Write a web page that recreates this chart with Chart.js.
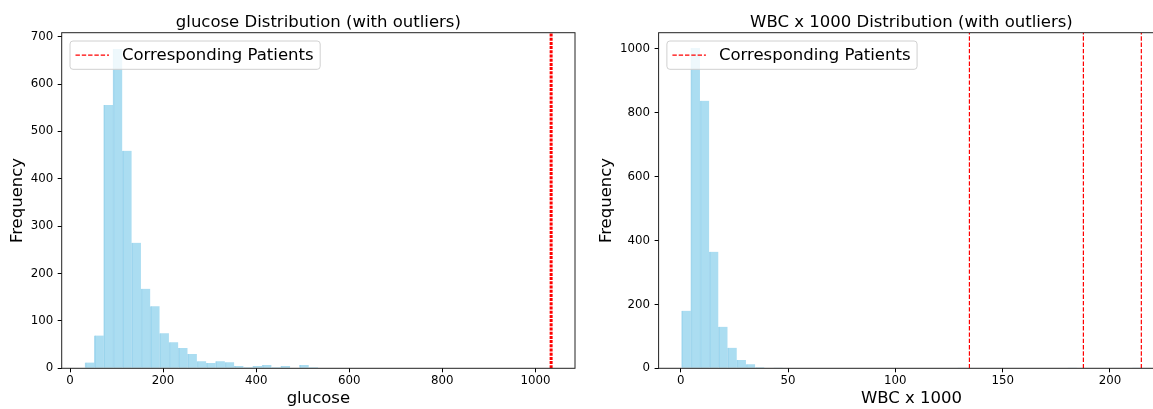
<!DOCTYPE html>
<html>
<head>
<meta charset="utf-8">
<title>Distributions with outliers</title>
<script src="https://cdn.jsdelivr.net/npm/chart.js@4.4.0/dist/chart.umd.min.js"></script>
<style>
  html, body { margin: 0; padding: 0; background: #fff; overflow: hidden; }
  #wrap { position: relative; width: 1153px; height: 409px; overflow: hidden; }
  #glucoseChart { position: absolute; left: 0; top: 0; }
  #wbcChart { position: absolute; left: 589px; top: 0; }
</style>
</head>
<body>
<div id="wrap">
  <canvas id="glucoseChart" width="589" height="409"></canvas>
  <canvas id="wbcChart" width="590" height="409"></canvas>
</div>
<script>
// glucose histogram, 50 bins
var glucoseBinStart = 32.2;
var glucoseBinWidth = 20.03;
var glucoseCounts = [12, 69, 556, 674, 459, 265, 168, 131, 74, 55,
                     43, 30, 15, 11, 15, 13, 5, 2, 5, 7,
                     2, 5, 1, 7, 2, 1, 0, 0, 0, 0,
                     0, 1, 0, 0, 1, 0, 0, 0, 0, 0,
                     0, 0, 0, 0, 0, 0, 1, 0, 0, 1];
var glucosePatients = [1033.7];
var glucoseTicksX = [0, 200, 400, 600, 800, 1000];
var glucoseTicksY = [0, 100, 200, 300, 400, 500, 600, 700];

// WBC x 1000 histogram, 50 bins
var wbcBinStart = 0.4;
var wbcBinWidth = 4.284;
var wbcCounts = [180, 1003, 838, 365, 130, 64, 26, 13, 3, 2,
                 1, 0, 0, 0, 0, 0, 0, 0, 0, 0,
                 0, 0, 0, 0, 0, 0, 0, 0, 0, 0,
                 1, 0, 0, 0, 0, 0, 0, 0, 0, 0,
                 0, 0, 1, 0, 0, 0, 0, 0, 0, 1];
var wbcPatients = [134.5, 187.6, 214.6];
var wbcTicksX = [0, 50, 100, 150, 200];
var wbcTicksY = [0, 200, 400, 600, 800, 1000];

var FONT = '"DejaVu Sans", "Liberation Sans", sans-serif';
Chart.defaults.font.family = FONT;
Chart.defaults.color = '#000';

function toBars(start, width, counts) {
    var pts = [];
    for (var i = 0; i < counts.length; i++) {
        pts.push({ x: start + width * (i + 0.5), y: counts[i] });
    }
    return pts;
}

function patientLines(values, yTop, lineWidth, dash) {
    return values.map(function (v) {
        return {
            type: 'line',
            label: 'Corresponding Patients',
            data: [{ x: v, y: 0 }, { x: v, y: yTop }],
            borderColor: 'red',
            borderWidth: lineWidth,
            borderDash: dash,
            pointRadius: 0,
            fill: false,
            order: 0
        };
    });
}

// full box round the plot area (matplotlib spines)
var framePlugin = {
    id: 'frame',
    afterDatasetsDraw: function (chart) {
        var a = chart.chartArea, ctx = chart.ctx;
        ctx.save();
        ctx.strokeStyle = '#222';
        ctx.lineWidth = 1;
        ctx.strokeRect(a.left, a.top, a.right - a.left, a.bottom - a.top);
        ctx.restore();
    }
};

// legend box in the upper left corner
var legendPlugin = {
    id: 'patientLegend',
    afterDraw: function (chart) {
        var a = chart.chartArea, ctx = chart.ctx;
        var label = 'Corresponding Patients';
        ctx.save();
        ctx.font = '16.5px ' + FONT;
        var tw = ctx.measureText(label).width;
        var x = a.left + 8.3, y = a.top + 8.3, h = 28.3, w = 52 + tw + 6.6;
        ctx.beginPath();
        ctx.roundRect(x, y, w, h, 3);
        ctx.fillStyle = 'rgba(255,255,255,0.8)';
        ctx.fill();
        ctx.strokeStyle = '#d0d0d0';
        ctx.lineWidth = 1;
        ctx.stroke();
        ctx.beginPath();
        ctx.setLineDash([4.4, 1.9]);
        ctx.strokeStyle = 'red';
        ctx.lineWidth = 1.2;
        ctx.moveTo(x + 5.5, y + h / 2);
        ctx.lineTo(x + 39, y + h / 2);
        ctx.stroke();
        ctx.setLineDash([]);
        ctx.fillStyle = '#000';
        ctx.textBaseline = 'middle';
        ctx.fillText(label, x + 52, y + h / 2 + 1);
        ctx.restore();
    }
};

function axisTicks(list) {
    return function (scale) {
        scale.ticks = list.map(function (v) { return { value: v }; });
    };
}

function makeHist(id, cfg) {
    return new Chart(document.getElementById(id), {
        type: 'bar',
        data: {
            datasets: [{
                type: 'bar',
                label: cfg.xLabel,
                data: toBars(cfg.binStart, cfg.binWidth, cfg.counts),
                backgroundColor: 'rgba(135,206,235,0.7)',
                borderColor: 'rgba(110,190,225,0.55)',
                borderWidth: { top: 0, right: 0, bottom: 0, left: 1 },
                borderSkipped: false,
                barPercentage: 1,
                categoryPercentage: 1,
                order: 1
            }].concat(patientLines(cfg.patients, cfg.yMax, cfg.lineWidth, cfg.dash))
        },
        options: {
            responsive: false,
            animation: false,
            layout: { padding: { left: 0, right: cfg.padRight, top: 0, bottom: 0 } },
            plugins: {
                legend: { display: false },
                tooltip: { enabled: false },
                title: {
                    display: true,
                    text: cfg.title,
                    fullSize: false,
                    font: { size: 16.5, weight: 'normal', lineHeight: 1 },
                    padding: { top: 14.5, bottom: 1.7 },
                    color: '#000'
                }
            },
            scales: {
                x: {
                    type: 'linear',
                    min: cfg.xMin,
                    max: cfg.xMax,
                    offset: false,
                    afterBuildTicks: axisTicks(cfg.xTicks),
                    afterFit: function (s) { s.height = 40.7; },
                    grid: { display: true, offset: false, drawOnChartArea: false, drawTicks: true, tickLength: 4, color: '#000', lineWidth: 1 },
                    border: { display: false },
                    ticks: {
                        font: { size: 11.8 },
                        color: '#000',
                        padding: 2,
                        maxRotation: 0,
                        autoSkip: false,
                        callback: function (v) { return String(v); }
                    },
                    title: { display: true, text: cfg.xLabel, font: { size: 16.5 }, padding: { top: 0, bottom: 0 }, color: '#000' }
                },
                y: {
                    min: 0,
                    max: cfg.yMax,
                    afterBuildTicks: axisTicks(cfg.yTicks),
                    afterFit: function (s) { s.width = cfg.yWidth; },
                    grid: { display: true, offset: false, drawOnChartArea: false, drawTicks: true, tickLength: 4, color: '#000', lineWidth: 1 },
                    border: { display: false },
                    ticks: {
                        font: { size: 11.8 },
                        color: '#000',
                        padding: 4.5,
                        autoSkip: false,
                        callback: function (v) { return String(v); }
                    },
                    title: { display: true, text: 'Frequency', font: { size: 16.5 }, padding: { top: 8, bottom: 0 }, color: '#000' }
                }
            }
        },
        plugins: [framePlugin, legendPlugin]
    });
}

makeHist('glucoseChart', {
    title: 'glucose Distribution (with outliers)',
    xLabel: 'glucose',
    binStart: glucoseBinStart,
    binWidth: glucoseBinWidth,
    counts: glucoseCounts,
    patients: glucosePatients,
    xTicks: glucoseTicksX,
    yTicks: glucoseTicksY,
    xMin: -17.9,
    xMax: 1085,
    yMax: 708.4,
    yWidth: 61.7,
    padRight: 14,
    lineWidth: 3,
    dash: [3, 1.2]
});

makeHist('wbcChart', {
    title: 'WBC x 1000 Distribution (with outliers)',
    xLabel: 'WBC x 1000',
    binStart: wbcBinStart,
    binWidth: wbcBinWidth,
    counts: wbcCounts,
    patients: wbcPatients,
    xTicks: wbcTicksX,
    yTicks: wbcTicksY,
    xMin: -10.31,
    xMax: 225.3,
    yMax: 1051,
    yWidth: 69.6,
    padRight: 14.7,
    lineWidth: 1.2,
    dash: [4.4, 1.9]
});
</script>
</body>
</html>
